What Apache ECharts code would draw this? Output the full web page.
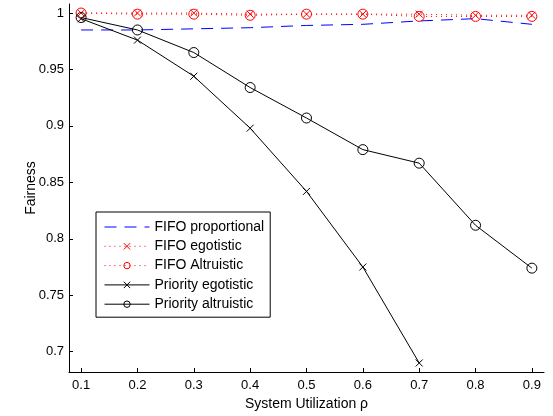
<!DOCTYPE html>
<html>
<head>
<meta charset="utf-8">
<script src="https://cdn.jsdelivr.net/npm/echarts@6/dist/echarts.min.js"></script>
<style>html,body{margin:0;padding:0;background:#fff;}#c{width:553px;height:416px;}</style>
</head>
<body>
<div id="c"></div>
<script>
const xValues = [0.1, 0.2, 0.3, 0.4, 0.5, 0.6, 0.7, 0.8, 0.9];
const xTicks = [0.1, 0.2, 0.3, 0.4, 0.5, 0.6, 0.7, 0.8, 0.9];
const yTicks = [0.7, 0.75, 0.8, 0.85, 0.9, 0.95, 1];
const fifoProportional = [0.985, 0.985, 0.986, 0.987, 0.989, 0.990, 0.993, 0.995, 0.990];
const fifoEgotistic = [1.000, 1.000, 1.000, 0.999, 0.999, 0.999, 0.999, 0.998, 0.998];
const fifoAltruistic = [1.000, 0.999, 0.999, 0.998, 0.999, 0.999, 0.997, 0.997, 0.997];
const priorityEgotistic = [0.995, 0.976, 0.944, 0.898, 0.842, 0.775, 0.690];
const priorityAltruistic = [0.996, 0.985, 0.965, 0.934, 0.907, 0.879, 0.867, 0.812, 0.774];
const seriesNames = ['FIFO proportional', 'FIFO egotistic', 'FIFO Altruistic', 'Priority egotistic', 'Priority altruistic'];

const FONT = 'Liberation Sans, Arial, Helvetica, sans-serif';
const X_PATH = 'path://M0,0L10,10M10,0L0,10';
function pairs(vals) { return vals.map((v, i) => [xValues[i], v]); }

const chart = echarts.init(document.getElementById('c'), null, {renderer: 'canvas'});
chart.setOption({
  animation: false,
  backgroundColor: '#fff',
  grid: {left: 69, right: 9, top: 4, bottom: 44, containLabel: false},
  xAxis: {
    type: 'value', min: 0.0785, max: 0.9215,
    name: 'System Utilization ρ', nameLocation: 'middle', nameGap: 25, nameMoveOverlap: false,
    nameTextStyle: {fontFamily: FONT, fontSize: 14, color: '#000'},
    axisLine: {show: true, onZero: false, lineStyle: {color: '#000', width: 1}},
    axisTick: {show: true, inside: true, length: 4, customValues: xTicks, lineStyle: {color: '#000'}},
    axisLabel: {customValues: xTicks, fontFamily: FONT, fontSize: 13, color: '#000', margin: 7,
      formatter: v => String(Math.round(v * 10) / 10)},
    splitLine: {show: false}
  },
  yAxis: {
    type: 'value', min: 0.682, max: 1.008,
    name: 'Fairness', nameLocation: 'middle', nameGap: 31, nameRotate: 90, nameMoveOverlap: false,
    nameTextStyle: {fontFamily: FONT, fontSize: 14, color: '#000'},
    axisLine: {show: true, onZero: false, lineStyle: {color: '#000', width: 1}},
    axisTick: {show: true, inside: true, length: 4, customValues: yTicks, lineStyle: {color: '#000'}},
    axisLabel: {customValues: yTicks, fontFamily: FONT, fontSize: 13, color: '#000', margin: 5,
      formatter: v => String(Math.round(v * 100) / 100)},
    splitLine: {show: false}
  },
  legend: {
    left: 96, top: 212, orient: 'vertical',
    data: [
      {name: seriesNames[0], itemStyle: {opacity: 0}},
      {name: seriesNames[1]},
      {name: seriesNames[2]},
      {name: seriesNames[3]},
      {name: seriesNames[4]}
    ],
    itemWidth: 45, itemHeight: 8, itemGap: 5.3,
    padding: [8, 6, 6, 8],
    borderColor: '#000', borderWidth: 1, backgroundColor: '#fff',
    lineStyle: {width: 1},
    itemStyle: {borderWidth: 1},
    textStyle: {fontFamily: FONT, fontSize: 14, color: '#000'}
  },
  series: [
    {name: seriesNames[0], type: 'line', data: pairs(fifoProportional), showSymbol: false, symbol: 'none',
      lineStyle: {color: '#0000ff', width: 1, type: [12, 8]}, itemStyle: {color: '#0000ff'}},
    {name: seriesNames[1], type: 'line', data: pairs(fifoEgotistic), symbol: X_PATH, symbolSize: 7,
      lineStyle: {color: '#ff0000', width: 1, type: [1, 4]},
      itemStyle: {color: 'none', borderColor: '#ff0000', borderWidth: 1}},
    {name: seriesNames[2], type: 'line', data: pairs(fifoAltruistic), symbol: 'circle', symbolSize: 10,
      lineStyle: {color: '#ff0000', width: 1, type: [1, 4]},
      itemStyle: {color: 'none', borderColor: '#ff0000', borderWidth: 1}},
    {name: seriesNames[3], type: 'line', data: pairs(priorityEgotistic), symbol: X_PATH, symbolSize: 7,
      lineStyle: {color: '#000', width: 1},
      itemStyle: {color: 'none', borderColor: '#000', borderWidth: 1}},
    {name: seriesNames[4], type: 'line', data: pairs(priorityAltruistic), symbol: 'circle', symbolSize: 10,
      lineStyle: {color: '#000', width: 1},
      itemStyle: {color: 'none', borderColor: '#000', borderWidth: 1}}
  ]
});
</script>
</body>
</html>
